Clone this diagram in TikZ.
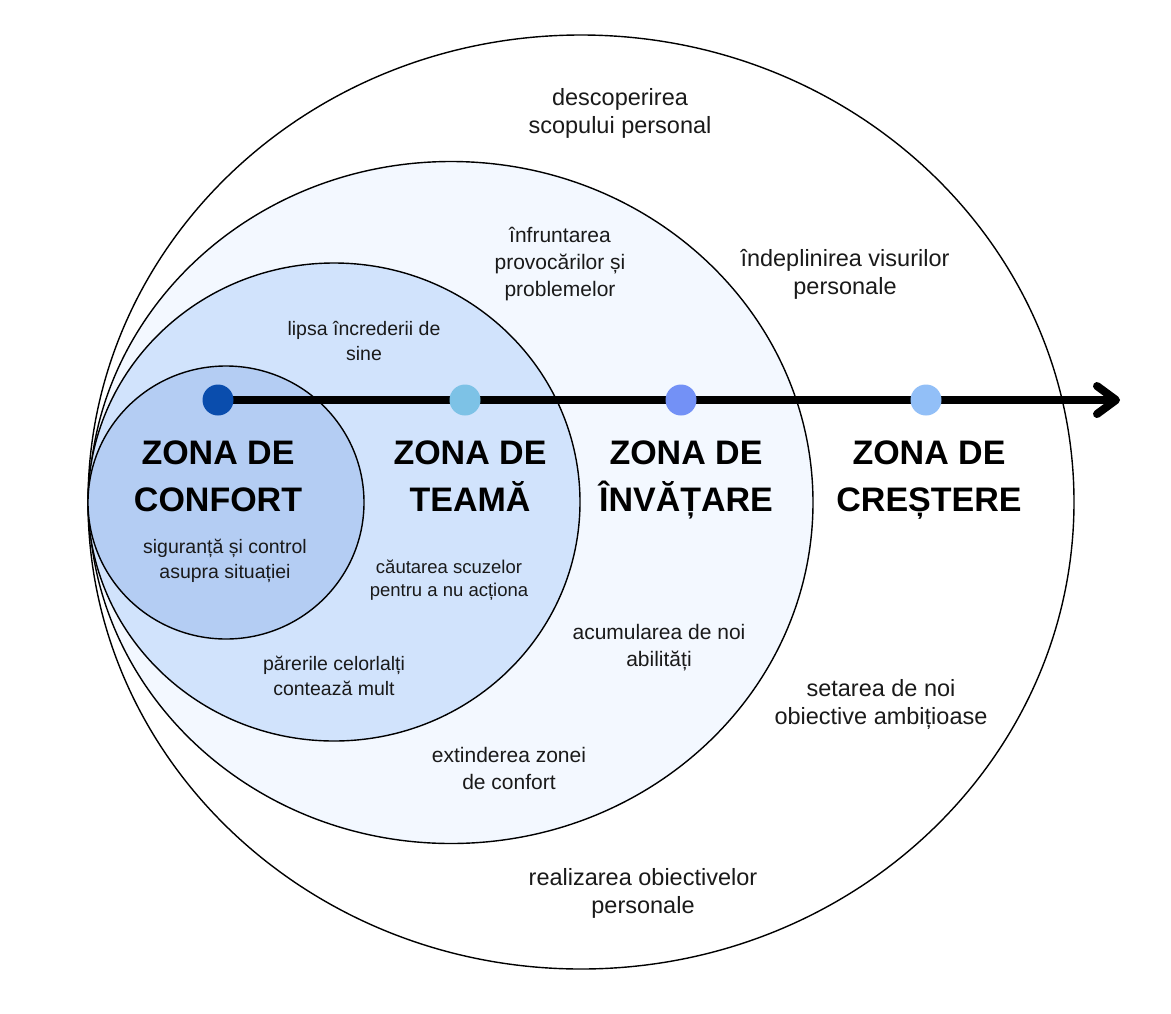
\documentclass[tikz,border=0pt]{standalone}
\usepackage{fontspec}
\setmainfont{Liberation Sans}
\usetikzlibrary{calc}
\pgfdeclarelayer{bg}
\pgfdeclarelayer{mid}
\pgfsetlayers{bg,mid,main}
\definecolor{cfill}{HTML}{B4CDF3}
\definecolor{ffill}{HTML}{D1E3FC}
\definecolor{lfill}{HTML}{F3F8FF}
\definecolor{dotA}{HTML}{0A4DAD}
\definecolor{dotB}{HTML}{7DC2E6}
\definecolor{dotC}{HTML}{7391F6}
\definecolor{dotD}{HTML}{92BFF7}
\definecolor{txt}{HTML}{1A1A1A}
\tikzset{
  zone/.style={draw=black, line width=1.4pt},
  dotnode/.style={circle, minimum size=31pt, inner sep=0pt},
  head/.style={inner sep=0pt, text=black, font=\fontsize{34}{47}\selectfont\bfseries},
  txtL/.style={inner sep=0pt, text=txt, font=\fontsize{23.5}{28.5}\selectfont},
  txtM/.style={inner sep=0pt, text=txt, font=\fontsize{21}{27}\selectfont},
  txtS/.style={inner sep=0pt, text=txt, font=\fontsize{19.5}{25.5}\selectfont},
  txtXS/.style={inner sep=0pt, text=txt, font=\fontsize{18.5}{23}\selectfont},
  arrowline/.style={line width=8pt, draw=black},
}
\newcommand{\twol}[2]{\begin{tabular}{@{}c@{}}#1\\#2\end{tabular}}
\newcommand{\threel}[3]{\begin{tabular}{@{}c@{}}#1\\#2\\#3\end{tabular}}
\begin{document}
\begin{tikzpicture}[x=1pt,y=-1pt]
\useasboundingbox (0,0) rectangle (1171,1013);
\begin{pgfonlayer}{bg}
  \fill[white] (0,0) rectangle (1171,1013);
  \filldraw[zone, fill=white] (581,502) ellipse [x radius=493pt, y radius=467pt];
  \filldraw[zone, fill=lfill] (451,502.5) ellipse [x radius=362pt, y radius=341pt];
  \filldraw[zone, fill=ffill] (334,502) ellipse [x radius=246pt, y radius=239pt];
  \filldraw[zone, fill=cfill] (226,502.5) ellipse [x radius=138pt, y radius=136.5pt];
\end{pgfonlayer}

\node[dotnode, fill=dotA] (d1) at (218,400) {};
\node[dotnode, fill=dotB] (d2) at (465,400) {};
\node[dotnode, fill=dotC] (d3) at (681,400) {};
\node[dotnode, fill=dotD] (d4) at (926,400) {};
\coordinate (tip) at (1116,400);

\begin{pgfonlayer}{mid}
  \draw[arrowline] (d1.center) -- (tip);
  \draw[arrowline, line cap=round, line join=round] ($(tip)+(-19,-14)$) -- (tip) -- ($(tip)+(-19,14)$);
\end{pgfonlayer}

\node[head] (h1) at (218,479) {\twol{ZONA DE}{CONFORT}};
\node[head] (h2) at (470,479) {\twol{ZONA DE}{TEAMĂ}};
\node[head] (h3) at (686,479) {\twol{ZONA DE}{ÎNVĂȚARE}};
\node[head] (h4) at (929,479) {\twol{ZONA DE}{CREȘTERE}};

\node[txtL] (t1) at (620,114) {\twol{descoperirea}{scopului personal}};
\node[txtL] (t2) at (845,275) {\twol{îndeplinirea visurilor}{personale}};
\node[txtL] (t3) at (881,705) {\twol{setarea de noi}{obiective ambițioase}};
\node[txtL] (t4) at (643,894) {\twol{realizarea obiectivelor}{personale}};

\node[txtM] (t5) at (560,264) {\threel{înfruntarea}{provocărilor și}{problemelor}};
\node[txtM] (t6) at (659,648) {\twol{acumularea de noi}{abilități}};
\node[txtM] (t7) at (509,771) {\twol{extinderea zonei}{de confort}};

\node[txtS] (t8) at (364,343) {\twol{lipsa încrederii de}{sine}};
\node[txtS] (t9) at (334,678) {\twol{părerile celorlalți}{contează mult}};
\node[txtXS] (t10) at (449,580) {\twol{căutarea scuzelor}{pentru a nu acționa}};
\node[txtS] (t11) at (225,561) {\twol{siguranță și control}{asupra situației}};
\end{tikzpicture}
\end{document}
